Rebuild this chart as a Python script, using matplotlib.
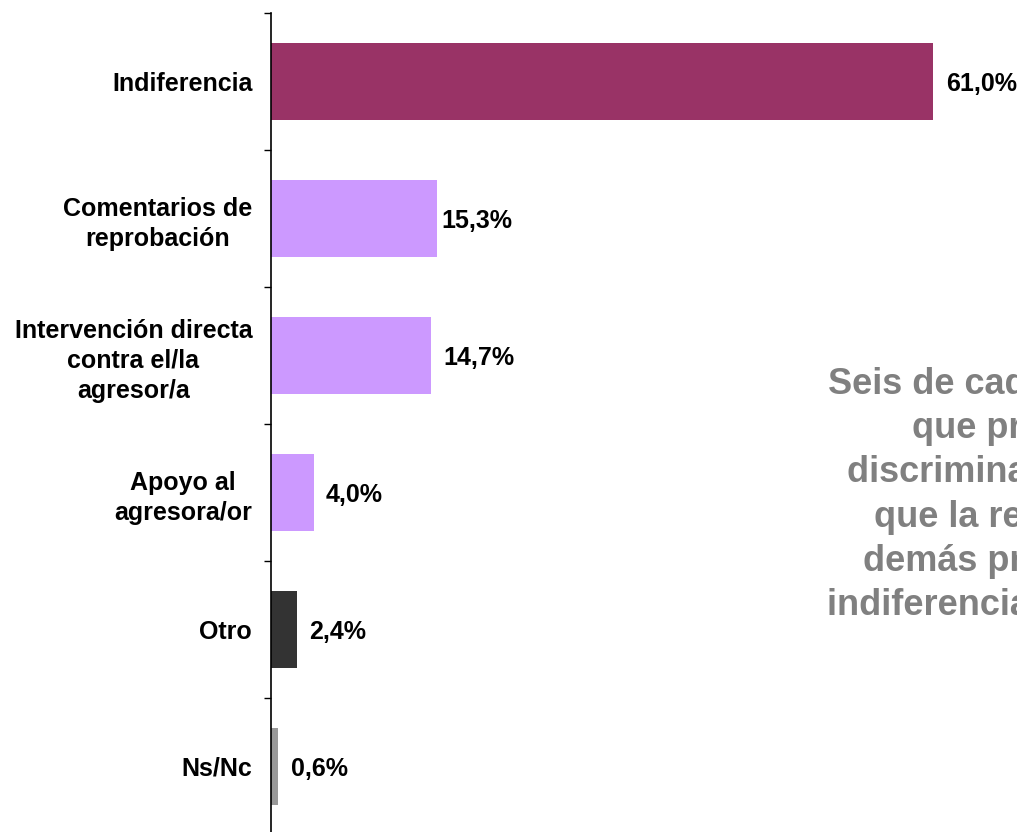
"""Reacción ante una situación de discriminación: barras horizontales."""

import matplotlib.pyplot as plt
import numpy as np
from matplotlib.ticker import FixedLocator

plt.rcParams["font.family"] = ["Liberation Sans", "DejaVu Sans"]

categorias = [
    "Indiferencia",
    "Comentarios de\nreprobación",
    "Intervención directa\ncontra el/la\nagresor/a",
    "Apoyo al\nagresora/or",
    "Otro",
    "Ns/Nc",
]
valores = [61.0, 15.3, 14.7, 4.0, 2.4, 0.6]
colores = ["#993366", "#CC99FF", "#CC99FF", "#CC99FF", "#333333", "#999999"]
etiquetas = ["61,0%", "15,3%", "14,7%", "4,0%", "2,4%", "0,6%"]

texto_lateral = (
    "Seis de cada diez personas\n"
    "que presenciaron\n"
    "discriminación afirmaron\n"
    "que la reacción de los\n"
    "demás presentes fue la\n"
    "indiferencia ante el suceso."
)

# separación (en puntos) entre el final de cada barra y su etiqueta
sep_etiqueta = [9.5, 3, 9.5, 8, 8.5, 9.5]

W, H = 1017, 832
fig = plt.figure(figsize=(W / 100, H / 100), dpi=100)
# eje: x=0 en px 271, 61% en px 933; y de px 13 a 835
px_por_pct = (933 - 271) / 61.0
ax = fig.add_axes([271 / W, -3 / H, (W - 271) / W, 822 / H])

y = np.arange(len(categorias))
ax.barh(y, valores, height=0.56, color=colores, edgecolor="none")
ax.set_xlim(0, (W - 271) / px_por_pct)
ax.set_ylim(len(categorias) - 0.5, -0.5)

for yi, v, lab, dx in zip(y, valores, etiquetas, sep_etiqueta):
    ax.annotate(lab, (v, yi), xytext=(dx, -1.5), textcoords="offset points",
                va="center", ha="left", fontsize=18, fontweight="bold")

ax.set_yticks(y)
ax.set_yticklabels(categorias, fontsize=18, fontweight="bold",
                   multialignment="center", linespacing=1.3)
ax.yaxis.set_minor_locator(FixedLocator(np.arange(-0.5, len(categorias), 1.0)))
ax.tick_params(axis="y", which="major", length=0, pad=13.5)
ax.tick_params(axis="y", which="minor", length=5, width=1, direction="out")
ax.set_xticks([])
for s in ["top", "right", "bottom"]:
    ax.spines[s].set_visible(False)
ax.spines["left"].set_linewidth(1.2)

# el recuadro de texto gris queda cortado por el borde derecho, como en el original
fig.text(1063 / W, 1 - 495 / H, texto_lateral, ha="center", va="center",
         multialignment="center", fontsize=26, fontweight="bold",
         color="#808080", linespacing=1.34)

fig.savefig("out.png", dpi=100)
